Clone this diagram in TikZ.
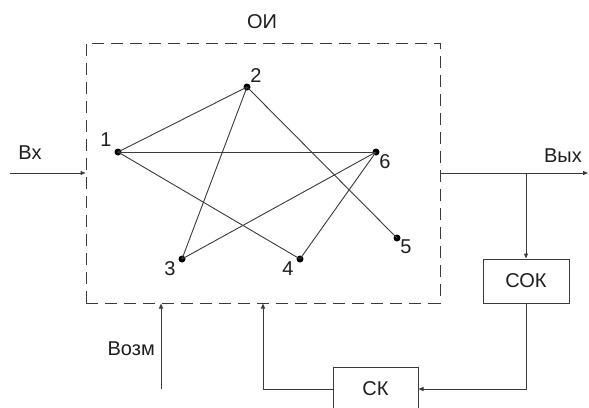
\documentclass[tikz,border=0pt]{standalone}
\usepackage{fontspec}
\setmainfont{Liberation Sans}
\usepackage{tikz}
\usetikzlibrary{arrows.meta,positioning,calc}
\definecolor{clLine}{HTML}{3A3A3A}
\definecolor{clText}{HTML}{1E1E1E}
\tikzset{
  blk/.style={rectangle, draw=clLine, line width=1pt, minimum width=86pt,
              minimum height=44pt, inner sep=0pt, text=clText},
  objbox/.style={rectangle, draw=clLine, line width=1pt,
                 dash pattern=on 12pt off 7pt, minimum width=354pt,
                 minimum height=260pt, inner sep=0pt},
  dot/.style={circle, fill=black, inner sep=0pt, minimum size=7pt},
  num/.style={text=clText, inner sep=0pt},
  edge/.style={draw=clLine, line width=0.9pt},
  flow/.style={-{Triangle[length=5pt,width=4pt]}, draw=clLine, line width=1pt},
}

\begin{document}
\begin{tikzpicture}[x=1pt, y=-1pt, every node/.style={font=\fontsize{20}{24}\selectfont}]
  \useasboundingbox[fill=white] (0,0) rectangle (589,407);
  % object and its graph
  \node[objbox] (oi) at (263,173) {};
  \node[num] (oilbl) at (262,22) {ОИ};
  \node[dot] (p1) at (118,152) {};
  \node[dot] (p2) at (247,87) {};
  \node[dot] (p3) at (182,259) {};
  \node[dot] (p4) at (300,259) {};
  \node[dot] (p5) at (397,238) {};
  \node[dot] (p6) at (376,152) {};
  \node[num] (n1) at (106,140) {1};
  \node[num] (n2) at (256,76) {2};
  \node[num] (n3) at (170,269) {3};
  \node[num] (n4) at (288,269) {4};
  \node[num] (n5) at (406,247) {5};
  \node[num] (n6) at (385,162) {6};
  \draw[edge] (p1.center)--(p2.center); \draw[edge] (p1.center)--(p6.center);
  \draw[edge] (p1.center)--(p4.center); \draw[edge] (p2.center)--(p3.center);
  \draw[edge] (p2.center)--(p5.center); \draw[edge] (p6.center)--(p3.center);
  \draw[edge] (p6.center)--(p4.center);
  % feedback loop
  \node[blk] (sok) at (526,281) {СОК};
  \node[blk, minimum width=85pt] (sk) at (375.5,389) {СК};
  \coordinate (in) at (10,173);
  \coordinate (out) at (588,173);
  \coordinate (br) at (526,173);
  \coordinate (dist) at (161,389);
  \node[num] (vx) at (30,153) {Вх};
  \node[num] (vyx) at (563,156) {Вых};
  \node[num, anchor=east] (vozm) at (155,349) {Возм};
  \draw[flow] (in) -- (oi.west);
  \draw[flow] (oi.east) -- (out);
  \draw[flow] (br) -- (sok.north);
  \draw[flow] (sok.south) |- (sk.east);
  \draw[flow] (sk.west) -| (oi.south);
  \draw[flow] (dist) -- (dist |- oi.south);
\end{tikzpicture}
\end{document}
